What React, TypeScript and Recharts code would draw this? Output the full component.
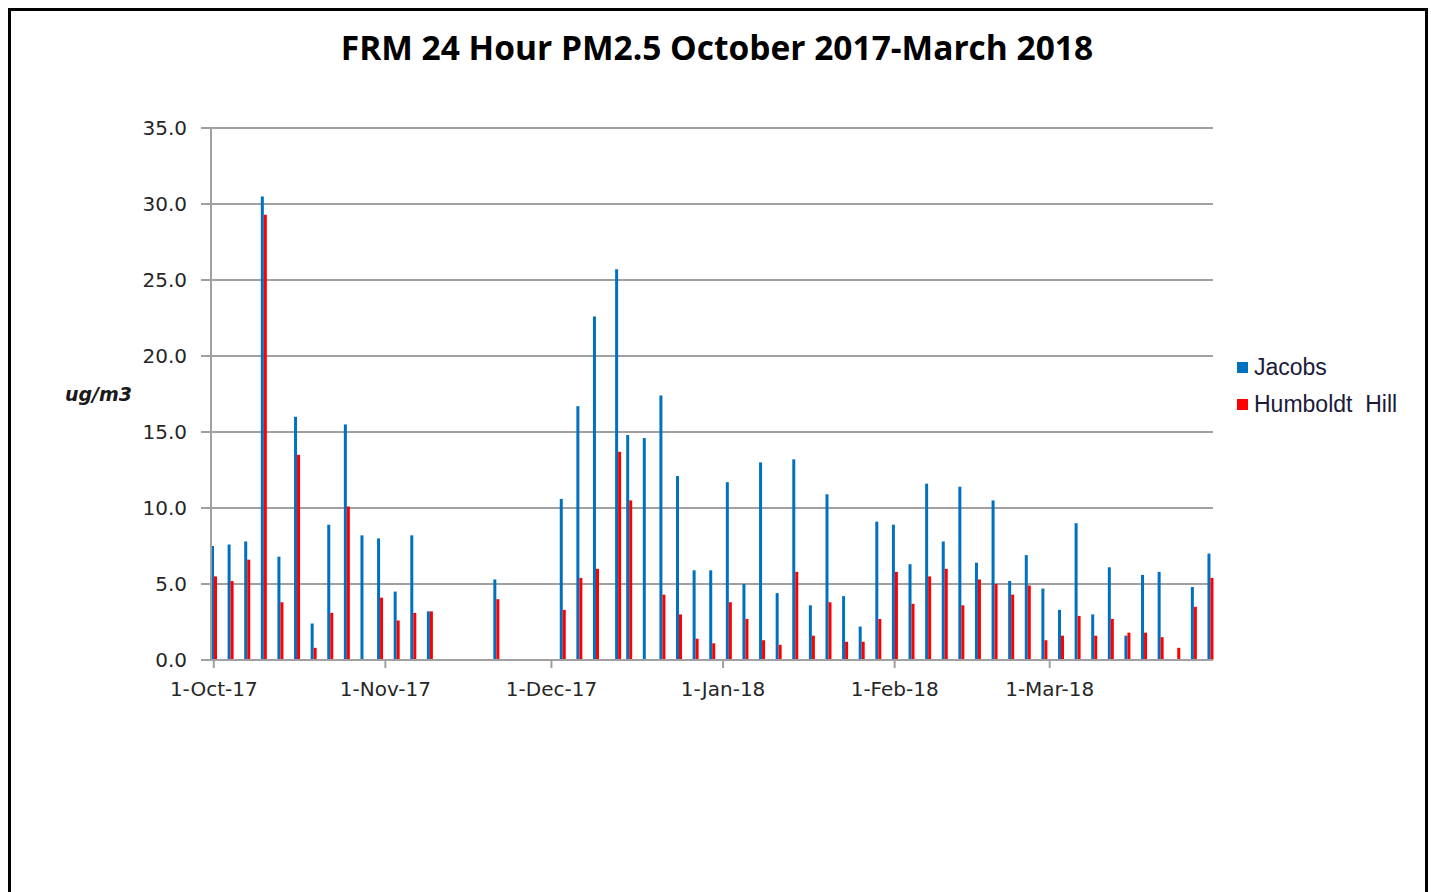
import React from 'react';
import { BarChart, Bar, XAxis, YAxis, CartesianGrid } from 'recharts';

// FRM samples, 1-in-3 day schedule (a few missing / make-up days)
const sampleDates = [
  '1-Oct-17', '4-Oct-17', '7-Oct-17', '10-Oct-17', '13-Oct-17', '16-Oct-17', '19-Oct-17',
  '22-Oct-17', '25-Oct-17', '28-Oct-17', '31-Oct-17', '3-Nov-17', '6-Nov-17', '9-Nov-17',
  '21-Nov-17', '3-Dec-17', '6-Dec-17', '9-Dec-17', '13-Dec-17', '15-Dec-17', '18-Dec-17',
  '21-Dec-17', '24-Dec-17', '27-Dec-17', '30-Dec-17', '2-Jan-18', '5-Jan-18', '8-Jan-18',
  '11-Jan-18', '14-Jan-18', '17-Jan-18', '20-Jan-18', '23-Jan-18', '26-Jan-18', '29-Jan-18',
  '1-Feb-18', '4-Feb-18', '7-Feb-18', '10-Feb-18', '13-Feb-18', '16-Feb-18', '19-Feb-18',
  '22-Feb-18', '25-Feb-18', '28-Feb-18', '3-Mar-18', '6-Mar-18', '9-Mar-18', '12-Mar-18',
  '15-Mar-18', '18-Mar-18', '21-Mar-18', '24-Mar-18', '27-Mar-18', '30-Mar-18',
];

const jacobs = [
  7.5, 7.6, 7.8, 30.5, 6.8, 16.0, 2.4,
  8.9, 15.5, 8.2, 8.0, 4.5, 8.2, 3.2,
  5.3, 10.6, 16.7, 22.6, 25.7, 14.8, 14.6,
  17.4, 12.1, 5.9, 5.9, 11.7, 5.0, 13.0,
  4.4, 13.2, 3.6, 10.9, 4.2, 2.2, 9.1,
  8.9, 6.3, 11.6, 7.8, 11.4, 6.4, 10.5,
  5.2, 6.9, 4.7, 3.3, 9.0, 3.0, 6.1,
  1.6, 5.6, 5.8, null, 4.8, 7.0,
];

const humboldtHill = [
  5.5, 5.2, 6.6, 29.3, 3.8, 13.5, 0.8,
  3.1, 10.1, null, 4.1, 2.6, 3.1, 3.2,
  4.0, 3.3, 5.4, 6.0, 13.7, 10.5, null,
  4.3, 3.0, 1.4, 1.1, 3.8, 2.7, 1.3,
  1.0, 5.8, 1.6, 3.8, 1.2, 1.2, 2.7,
  5.8, 3.7, 5.5, 6.0, 3.6, 5.3, 5.0,
  4.3, 4.9, 1.3, 1.6, 2.9, 1.6, 2.7,
  1.8, 1.8, 1.5, 0.8, 3.5, 5.4,
];

const monthNames = ['Oct', 'Nov', 'Dec', 'Jan', 'Feb', 'Mar'];
// axis runs from 1-Oct-17 to 30-Mar-18 (last sample)
const monthLengths = [31, 30, 31, 31, 28, 30];
const monthYears = ['17', '17', '17', '18', '18', '18'];
const monthTicks = ['1-Oct-17', '1-Nov-17', '1-Dec-17', '1-Jan-18', '1-Feb-18', '1-Mar-18'];
const yTicks = [0, 5, 10, 15, 20, 25, 30, 35];

// every calendar day is a slot on the axis, like Excel's date axis
const days: string[] = [];
monthNames.forEach((m, i) => {
  for (let d = 1; d <= monthLengths[i]; d++) days.push(`${d}-${m}-${monthYears[i]}`);
});

const data = days.map((date) => {
  const i = sampleDates.indexOf(date);
  return {
    date,
    jacobs: i >= 0 ? jacobs[i] : null,
    humboldt: i >= 0 ? humboldtHill[i] : null,
  };
});

const BLUE = '#0070C0';
const RED = '#FF0000';
const GRID = '#a0a0a0';
const tickFont = { fontFamily: 'DejaVu Sans', fontSize: 20, fill: '#262626' };

function LegendBox() {
  const items = [
    { name: 'Jacobs', color: BLUE },
    { name: 'Humboldt  Hill', color: RED },
  ];
  return (
    <div style={{ fontFamily: 'Liberation Sans', fontSize: 23, color: '#1a1a3a' }}>
      {items.map((it) => (
        <div key={it.name} style={{ display: 'flex', alignItems: 'center', height: 37, whiteSpace: 'pre' }}>
          <span style={{ width: 11, height: 11, background: it.color, marginRight: 6, display: 'inline-block' }} />
          {it.name}
        </div>
      ))}
    </div>
  );
}

export default function App() {
  return (
    <div style={{ position: 'relative', width: 1431, height: 892, overflow: 'hidden', background: '#fff' }}>
      <style>{'body{margin:0}'}</style>
      <div
        style={{
          position: 'absolute',
          left: 8,
          top: 8,
          width: 1420,
          height: 920,
          border: '3px solid #000',
          boxSizing: 'border-box',
        }}
      />
      <div
        style={{
          position: 'absolute',
          left: 0,
          top: 24,
          width: 1434,
          textAlign: 'center',
          fontFamily: 'Open Sans',
          fontWeight: 700,
          fontSize: 33.5,
          color: '#000',
        }}
      >
        FRM 24 Hour PM2.5 October 2017-March 2018
      </div>
      <div style={{ position: 'absolute', left: 1237, top: 349 }}>
        <LegendBox />
      </div>
      <div style={{ position: 'absolute', left: 0, top: 0 }}>
        <BarChart
          width={1431}
          height={892}
          data={data}
          margin={{ top: 128, right: 218, bottom: 202, left: 151 }}
          barCategoryGap={0}
          barGap={0}
        >
          <CartesianGrid vertical={false} stroke={GRID} strokeWidth={2} />
          <XAxis
            dataKey="date"
            ticks={monthTicks}
            interval={0}
            height={30}
            tickSize={8}
            tickMargin={14}
            tick={tickFont}
            axisLine={{ stroke: GRID, strokeWidth: 2 }}
            tickLine={{ stroke: GRID, strokeWidth: 2 }}
          />
          <YAxis
            domain={[0, 35]}
            ticks={yTicks}
            width={60}
            tickSize={10}
            tickMargin={14}
            tickFormatter={(v: number) => v.toFixed(1)}
            tick={tickFont}
            axisLine={{ stroke: GRID, strokeWidth: 2 }}
            tickLine={{ stroke: GRID, strokeWidth: 2 }}
            label={{
              value: 'ug/m3',
              position: 'left',
              offset: 19,
              angle: 0,
              style: {
                fontFamily: 'DejaVu Sans',
                fontSize: 19,
                fontWeight: 700,
                fontStyle: 'italic',
                fill: '#1a1a1a',
              },
            }}
          />
          <Bar dataKey="jacobs" name="Jacobs" fill={BLUE} isAnimationActive={false} />
          <Bar dataKey="humboldt" name="Humboldt Hill" fill={RED} isAnimationActive={false} />
        </BarChart>
      </div>
    </div>
  );
}
